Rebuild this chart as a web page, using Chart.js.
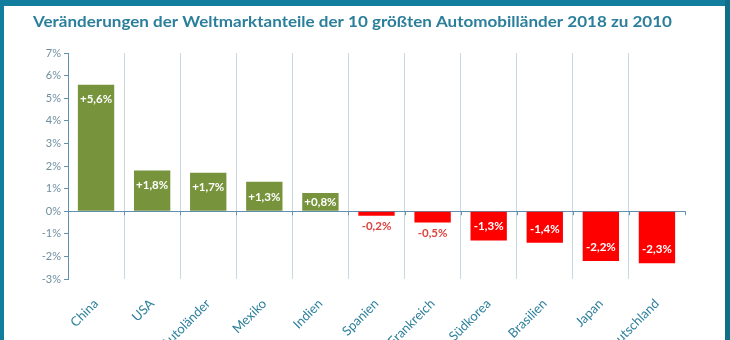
<!DOCTYPE html>
<html>
<head>
<meta charset="utf-8">
<script src="https://cdn.jsdelivr.net/npm/chart.js@4.4.1/dist/chart.umd.min.js"></script>
<style>
  html, body { margin: 0; padding: 0; background: #ffffff; overflow: hidden; }
  #wrap { position: relative; width: 730px; height: 340px; background: #fff; overflow: hidden; }
  #c { position: absolute; left: 0; top: 0; }
  .bd { position: absolute; background: #127d9c; }
</style>
</head>
<body>
<div id="wrap">
  <canvas id="c" width="730" height="340"></canvas>
  <div class="bd" style="left:0;top:0;width:730px;height:6px;"></div>
  <div class="bd" style="left:0;top:0;width:4px;height:340px;"></div>
  <div class="bd" style="left:725px;top:0;width:5px;height:340px;background:#0f6f88;"></div>
</div>
<script>
const titleText = 'Veränderungen der Weltmarktanteile der 10 größten Automobilländer 2018 zu 2010';
const categories = ['China','USA','Autoländer','Mexiko','Indien','Spanien','Frankreich','Südkorea','Brasilien','Japan','Deutschland'];
const values = [5.6, 1.8, 1.7, 1.3, 0.8, -0.2, -0.5, -1.3, -1.4, -2.2, -2.3];
const valueLabels = ['+5,6%','+1,8%','+1,7%','+1,3%','+0,8%','-0,2%','-0,5%','-1,3%','-1,4%','-2,2%','-2,3%'];
const yMin = -3, yMax = 7, yStep = 1;

const GREEN = '#77933c', RED = '#ff0000';
const AXIS = '#5f90b0', GRID = '#c9d9e2';

const titlePlugin = {
  id: 'titleText',
  afterDraw(chart) {
    const ctx = chart.ctx;
    ctx.save();
    ctx.font = 'bold 16px Lato';
    ctx.fillStyle = '#2b7f9b';
    ctx.textBaseline = 'middle';
    ctx.textAlign = 'left';
    const w = ctx.measureText(titleText).width;
    const target = 639;
    ctx.translate(33, 22);
    ctx.scale(target / w, 1);
    ctx.fillText(titleText, 0, 0);
    ctx.restore();
  }
};

const labelPlugin = {
  id: 'barLabels',
  afterDatasetsDraw(chart) {
    const ctx = chart.ctx;
    const meta = chart.getDatasetMeta(0);
    ctx.save();
    ctx.font = 'bold 11.5px Lato';
    ctx.textAlign = 'center';
    ctx.textBaseline = 'middle';
    meta.data.forEach((el, i) => {
      const v = values[i];
      let y, color = '#ffffff';
      if (v >= 1) {
        y = el.y + 15;
      } else if (v >= 0) {
        y = (el.y + el.base) / 2;
      } else if (v <= -1) {
        y = el.y - 14;
      } else {
        y = el.y + 11;
        color = '#d9443f';
      }
      ctx.fillStyle = color;
      ctx.fillText(valueLabels[i], el.x, y);
    });
    // small tick marks on the zero axis at category boundaries
    const xs = chart.scales.x, ys = chart.scales.y;
    const y0 = ys.getPixelForValue(0);
    ctx.strokeStyle = AXIS;
    ctx.lineWidth = 1;
    for (let i = 1; i <= categories.length; i++) {
      const xx = i < categories.length
        ? Math.round((xs.getPixelForValue(i - 1) + xs.getPixelForValue(i)) / 2)
        : Math.round(xs.right);
      ctx.beginPath();
      ctx.moveTo(xx + 0.5, y0);
      ctx.lineTo(xx + 0.5, y0 + 4);
      ctx.stroke();
    }
    ctx.restore();
  }
};

new Chart(document.getElementById('c'), {
  type: 'bar',
  data: {
    labels: categories,
    datasets: [{
      data: values,
      backgroundColor: values.map(v => v >= 0 ? GREEN : RED),
      borderWidth: 0,
      categoryPercentage: 0.8,
      barPercentage: 0.81
    }]
  },
  options: {
    responsive: false,
    animation: false,
    events: [],
    layout: { padding: { top: 53, right: 45, left: 0, bottom: 0 } },
    plugins: { legend: { display: false }, tooltip: { enabled: false }, title: { display: false } },
    scales: {
      x: {
        afterFit(scale) { scale.height = 61; },
        border: { display: false },
        grid: {
          offset: true,
          drawTicks: false,
          color: ctx => (ctx.type === 'tick' && ctx.index > 0) ? GRID : 'rgba(0,0,0,0)',
          lineWidth: 1
        },
        ticks: {
          minRotation: 45, maxRotation: 45,
          autoSkip: false,
          padding: 17,
          color: '#2b7f9b',
          font: { family: 'Lato', size: 13 }
        }
      },
      y: {
        min: yMin, max: yMax,
        afterFit(scale) { scale.width = 68; },
        border: { display: true, color: AXIS, width: 1 },
        grid: {
          drawOnChartArea: true,
          color: ctx => (ctx.tick && ctx.tick.value === 0) ? AXIS : 'rgba(0,0,0,0)',
          tickColor: AXIS,
          tickLength: 4
        },
        ticks: {
          stepSize: yStep,
          padding: 3,
          color: '#6f8fa0',
          font: { family: 'Lato', size: 11 },
          callback: v => v + '%'
        }
      }
    }
  },
  plugins: [titlePlugin, labelPlugin]
});
</script>
</body>
</html>
